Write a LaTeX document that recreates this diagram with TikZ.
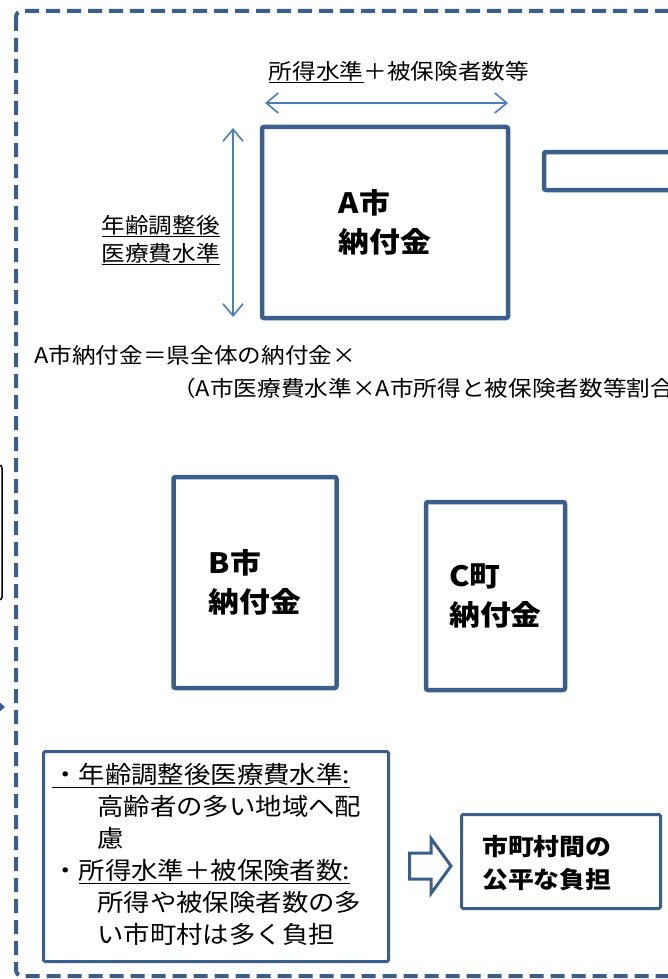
\documentclass[tikz,border=0pt]{standalone}
\usepackage{fontspec}
\setmainfont{Noto Sans CJK JP}[FakeStretch=1.1]
\usetikzlibrary{arrows.meta}
\definecolor{boxblue}{RGB}{59,95,140}
\definecolor{arrblue}{RGB}{74,126,187}
\begin{document}
\begin{tikzpicture}[x=1pt,y=-1pt,
  box/.style={draw=boxblue, line width=4.5pt, rounded corners=2pt, fill=white, inner sep=0pt, align=left, font=\fontsize{28}{39}\selectfont\bfseries},
  thinbox/.style={draw=boxblue, line width=3pt, rounded corners=1.5pt, fill=white, inner sep=0pt},
  dbl/.style={draw=arrblue, line width=1.6pt, {Straight Barb[length=12pt,width=20pt]}-{Straight Barb[length=12pt,width=20pt]}},
  lbl/.style={inner sep=0pt, font=\fontsize{21.5}{28}\selectfont, align=left},
  body/.style={inner sep=0pt, font=\fontsize{24}{32}\selectfont, align=left},
  bold/.style={inner sep=0pt, font=\fontsize{23.5}{33}\selectfont\bfseries, align=left},
]
\useasboundingbox (0,0) rectangle (668,979);
\clip (0,0) rectangle (668,979);
\fill[white] (0,0) rectangle (668,979);

% dashed frame
\draw[boxblue, line width=4pt, dash pattern=on 14pt off 7pt, rounded corners=6pt] (16,11) rectangle (760,976);

% partial elements on the left edge
\node[draw=black, line width=1.5pt, rounded corners=3pt, minimum width=60pt, minimum height=135pt] (leftbox) at (-28,532.5) {};
\coordinate (ltail) at (-40,707);
\coordinate (ltip) at (5,707);
\draw[-{Triangle[length=7pt,width=12pt]}, boxblue, line width=2pt] (ltail) -- (ltip);

% boxes
\node[box, minimum width=246pt, minimum height=191pt] (A) at (385,222.5) {A市\\納付金};
\node[box, minimum width=216pt, minimum height=38pt] (R) at (652,171) {};
\node[box, minimum width=163pt, minimum height=211pt] (B) at (255,582.5) {B市\\納付金};
\node[box, minimum width=139pt, minimum height=188pt] (C) at (495.5,596) {C町\\納付金};

% dimension arrows and labels
\coordinate (h1) at (265,103);
\coordinate (h2) at (508,103);
\draw[dbl] (h1) -- (h2);
\coordinate (v1) at (233,128);
\coordinate (v2) at (233,317);
\draw[dbl] (v1) -- (v2);
\node[lbl] (toplbl) at (399,72) {\underline{所得水準}＋被保険者数等};
\node[lbl, anchor=east] (leftlbl) at (220,240) {\underline{年齢調整後}\\\underline{医療費水準}};

% formula
\node[lbl, anchor=west] (f1) at (34,355) {A市納付金＝県全体の納付金×};
\node[lbl, anchor=west] (f2) at (172,388) {（A市医療費水準×A市所得と被保険者数等割合）};

% bottom notes
\node[thinbox, minimum width=345pt, minimum height=210pt] (note) at (216,856.5) {};
\node[body, anchor=north west] (notetext) at (52,763) {\underline{・年齢調整後医療費水準:}\\
\hspace*{45pt}高齢者の多い地域へ配\\
\hspace*{45pt}慮\\
・\underline{所得水準＋被保険者数:}\\
\hspace*{45pt}所得や被保険者数の多\\
\hspace*{45pt}い市町村は多く負担};

% hollow arrow
\draw[boxblue, line width=3pt, fill=white, line join=miter] (409.5,853) -- (431,853) -- (431,838.5) -- (451,866) -- (431,893.5) -- (431,879) -- (409.5,879) -- cycle;

% result box
\node[thinbox, minimum width=199pt, minimum height=94pt] (res) at (561,861.5) {};
\node[bold, anchor=west] (restext) at (482,863) {市町村間の\\公平な負担};
\end{tikzpicture}
\end{document}
